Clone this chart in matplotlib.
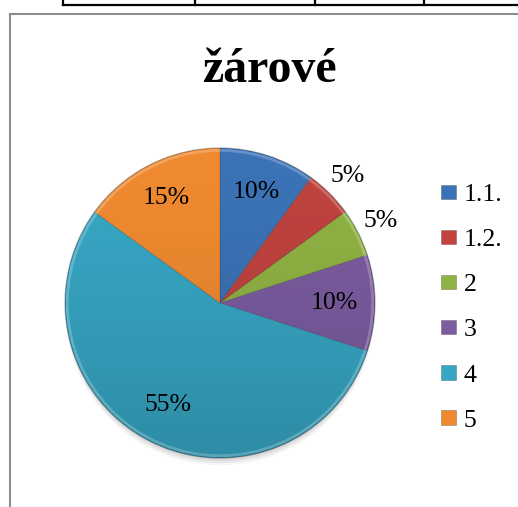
import matplotlib
matplotlib.use("Agg")
import matplotlib.pyplot as plt
import numpy as np
from matplotlib.lines import Line2D
from matplotlib.patches import Circle, Rectangle

categories = ["1.1.", "1.2.", "2", "3", "4", "5"]
values = [10, 5, 5, 10, 55, 15]
pct_labels = ["10%", "5%", "5%", "10%", "55%", "15%"]
colors = ["#3b73b6", "#c0433f", "#8fb243", "#7b5c9f", "#37a6c4", "#ef8a30"]
label_dist = [0.75, 1.16, 1.16, 0.74, 0.74, 0.76]
title = "žárové"

W, H, DPI = 518, 507, 100
fig = plt.figure(figsize=(W / DPI, H / DPI), dpi=DPI)
fig.patch.set_facecolor("white")

def fx(x):
    return x / W

def fy(y):
    return 1 - y / H

# table border lines at the top and chart frame
fig.add_artist(Line2D([fx(63), 1], [fy(5), fy(5)], color="black", lw=1.6))
for xv in [63, 195, 315, 424]:
    fig.add_artist(Line2D([fx(xv), fx(xv)], [1, fy(5)], color="black", lw=1.6))
fig.add_artist(Line2D([fx(9.5), 1], [fy(14), fy(14)], color="#8c8c8c", lw=1.5))
fig.add_artist(Line2D([fx(9.5), fx(9.5)], [fy(14), 0], color="#8c8c8c", lw=1.5))

fig.text(fx(269), fy(82), title, ha="center", va="baseline",
         fontsize=34.5, fontweight="bold", family="Liberation Serif")

cx, cy, R = 220, 303, 155
ax = fig.add_axes([fx(cx - R), fy(cy + R), 2 * R / W, 2 * R / H])
ax.axis("off")

# soft shadow under the pie
for i, a in enumerate([0.04, 0.05, 0.06, 0.08]):
    ax.add_patch(Circle((0.0, -0.05 + 0.01 * i), 0.985 + 0.004 * (3 - i),
                        color="black", alpha=a, lw=0, zorder=0, clip_on=False))

wedges, _ = ax.pie(values, colors=colors, startangle=90, counterclock=False,
                   radius=1.0, wedgeprops=dict(edgecolor=(0, 0, 0, 0.12), linewidth=0.8))
for w in wedges:
    w.set_zorder(1)
    w.set_clip_on(False)

# vertical shading gradient (lighter top, darker bottom)
grad = np.linspace(0, 1, 256).reshape(-1, 1)
rgba = np.zeros((256, 1, 4))
rgba[..., 3] = 0.16 * grad[::-1] ** 1.5
img = ax.imshow(rgba[::-1], extent=(-1, 1, -1, 1), origin="upper", zorder=2,
                aspect="auto", interpolation="bilinear")
clip = Circle((0, 0), 1.0, transform=ax.transData)
img.set_clip_path(clip)

# bevel rim
ax.add_patch(Circle((0, 0), 0.985, fill=False, edgecolor=(1, 1, 1, 0.22),
                    lw=2.0, zorder=3))
ax.add_patch(Circle((0, 0), 1.0, fill=False, edgecolor=(0, 0, 0, 0.15),
                    lw=1.0, zorder=3, clip_on=False))

ax.set_xlim(-1, 1)
ax.set_ylim(-1, 1)

total = sum(values)
start = 90.0
for v, lab, d in zip(values, pct_labels, label_dist):
    ang = start - 360.0 * v / total / 2
    start -= 360.0 * v / total
    t = np.deg2rad(ang)
    ax.text(d * np.cos(t), d * np.sin(t), lab, ha="center", va="center",
            fontsize=18.5, family="Liberation Serif", color="black", zorder=5,
            clip_on=False)

handles = [Rectangle((0, 0), 1, 1, facecolor=c, edgecolor=(0, 0, 0, 0.25), lw=0.6)
           for c in colors]
leg = fig.legend(handles, categories, loc="upper left",
                 bbox_to_anchor=(fx(441), fy(184)), frameon=False,
                 prop=dict(family="Liberation Serif", size=18.5),
                 handlelength=0.6, handleheight=0.48, handletextpad=0.28,
                 labelspacing=0.9, borderaxespad=0, borderpad=0)

fig.savefig("out.png", dpi=DPI, facecolor="white")
